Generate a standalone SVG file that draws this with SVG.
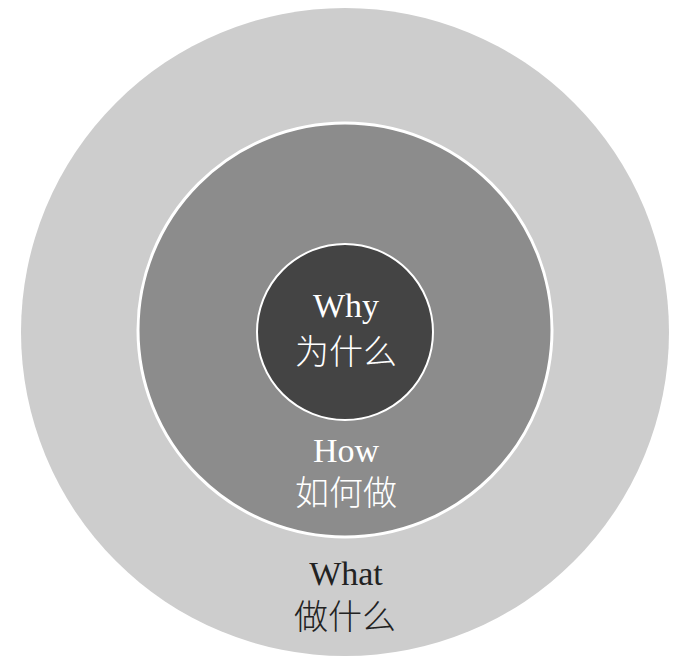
<svg xmlns="http://www.w3.org/2000/svg" width="696" height="669" viewBox="0 0 696 669">
<style>
.lat{font-family:"Liberation Serif","Times New Roman",serif;font-size:34px;text-anchor:middle}
.cjk{font-family:"Noto Sans CJK SC","Noto Sans CJK JP",sans-serif;font-size:34px;text-anchor:middle;font-weight:300}
.lt{fill:#ffffff}
.dk{fill:#222222}
</style>
<rect width="696" height="669" fill="#ffffff"/>
<g id="what">
<circle cx="345" cy="332" r="324" fill="#cdcdcd"/>
<text class="lat dk" x="346" y="585">What</text>
<text class="cjk dk" x="345" y="629">做什么</text>
</g>
<g id="how">
<circle cx="345" cy="330" r="207" fill="#8c8c8c" stroke="#ffffff" stroke-width="3"/>
<text class="lat lt" x="346" y="462">How</text>
<text class="cjk lt" x="346" y="505">如何做</text>
</g>
<g id="why">
<circle cx="345" cy="332" r="88" fill="#444444" stroke="#ffffff" stroke-width="2"/>
<text class="lat lt" x="346" y="317">Why</text>
<text class="cjk lt" x="346" y="364">为什么</text>
</g>
</svg>
